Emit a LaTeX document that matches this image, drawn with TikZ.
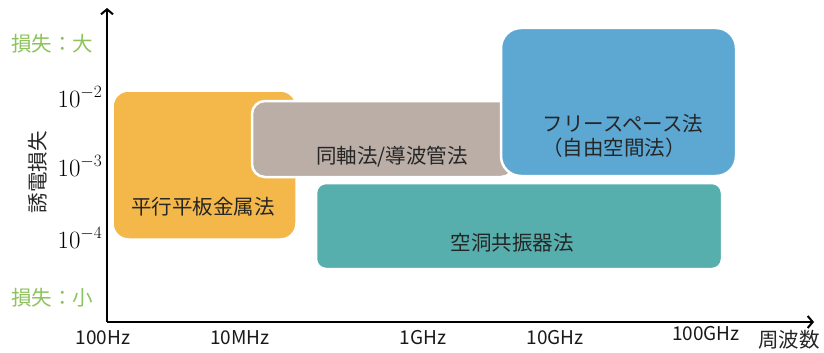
\documentclass[tikz,border=0pt]{standalone}
\usepackage{fontspec}
\usetikzlibrary{arrows.meta}
\newfontfamily\jp{Noto Sans CJK JP}
\definecolor{cOrange}{HTML}{F4B84A}
\definecolor{cGray}{HTML}{BAAEA6}
\definecolor{cBlue}{HTML}{5DA7D3}
\definecolor{cTeal}{HTML}{56AFAD}
\definecolor{cGreen}{HTML}{8CC35C}
\begin{document}
\begin{tikzpicture}[x=1pt,y=-1pt,
  box/.style={draw=white,line width=2.5pt,inner sep=0pt},
  jtext/.style={font=\jp\fontsize{20.5}{24}\selectfont,text=black!85,inner sep=0pt},
  xlab/.style={font=\jp\fontsize{19}{22}\selectfont,text=black!90,inner sep=0pt},
  ylab/.style={font=\fontsize{23}{26}\selectfont,inner sep=0pt,anchor=base},
  glab/.style={font=\jp\fontsize{20.5}{24}\selectfont,text=cGreen,inner sep=0pt},
  axis/.style={line width=1.8pt,-{Straight Barb[length=5pt,width=12pt,line width=2pt]}}]
\useasboundingbox (0,0) rectangle (824,353);
% axes
\coordinate (O) at (107,322);
\coordinate (ytip) at (107,8);
\coordinate (xtip) at (814,322);
\draw[axis] (O) -- (ytip);
\draw[axis] (O) -- (xtip);
% boxes
\node[box,fill=cOrange,rounded corners=16pt,minimum width=184pt,minimum height=149pt] (orange) at (204.5,165) {};
\node[box,fill=cGray,rounded corners=13pt,minimum width=262pt,minimum height=76pt] (gray) at (383,139) {};
\node[box,fill=cBlue,rounded corners=20pt,minimum width=235pt,minimum height=148pt] (blue) at (618.5,102) {};
\node[box,fill=cTeal,rounded corners=10pt,minimum width=406pt,minimum height=86pt] (teal) at (519,226) {};
% box texts
\node[jtext] (t1) at (203,207) {平行平板金属法};
\node[jtext] (t2) at (392,157) {同軸法/導波管法};
\node[jtext] (t3) at (623,124) {フリースペース法};
\node[jtext] (t4) at (614,148) {（自由空間法）};
\node[jtext] (t5) at (512,243) {空洞共振器法};
% y labels
\node[ylab] (y2) at (80,107) {$10^{-2}$};
\node[ylab] (y3) at (80,176) {$10^{-3}$};
\node[ylab] (y4) at (80,248) {$10^{-4}$};
\node[glab] (big) at (52,44) {損失：大};
\node[glab] (small) at (52,298) {損失：小};
\node[jtext,rotate=90] (ytitle) at (38,172) {誘電損失};
% x labels
\node[xlab] (x1) at (103,338) {100Hz};
\node[xlab] (x2) at (240,338) {10MHz};
\node[xlab] (x3) at (423,338) {1GHz};
\node[xlab] (x4) at (555,338) {10GHz};
\node[xlab] (x5) at (706,334) {100GHz};
\node[jtext] (xtitle) at (789,340) {周波数};
\end{tikzpicture}
\end{document}
